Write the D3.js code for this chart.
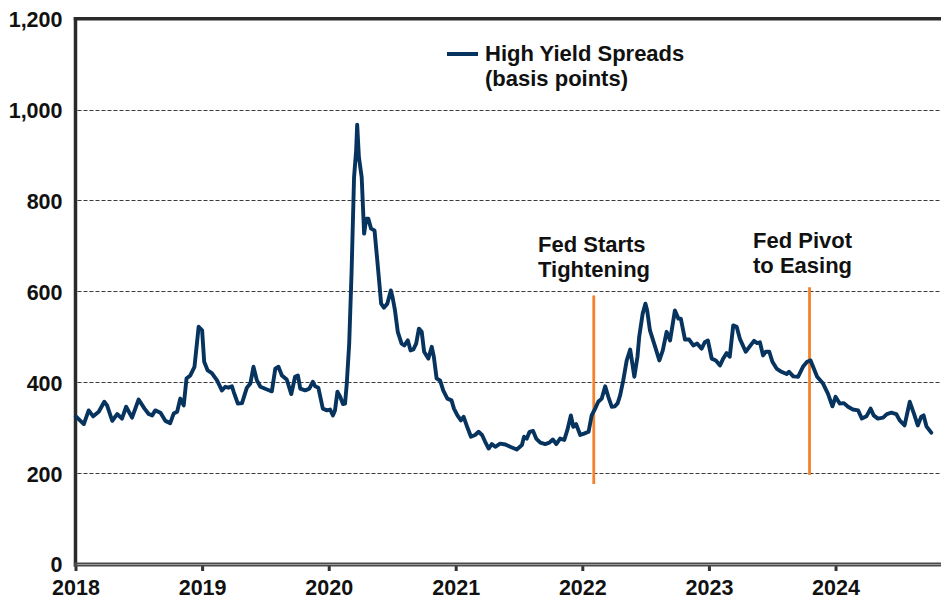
<!DOCTYPE html>
<html>
<head>
<meta charset="utf-8">
<script src="https://cdn.jsdelivr.net/npm/d3@7"></script>
<style>
  html, body { margin: 0; padding: 0; background: #fff; }
  svg { display: block; font-family: "Liberation Sans", Arial, Helvetica, sans-serif; font-weight: bold; }
</style>
</head>
<body>
<svg id="chart" width="941" height="599"></svg>
<script>
// High yield option-adjusted spread, basis points
const obsDates = [
  "2018-01-02","2018-01-25","2018-02-08","2018-02-21","2018-03-09","2018-03-25","2018-04-02","2018-04-17",
  "2018-05-01","2018-05-15","2018-05-27","2018-06-13","2018-07-02","2018-07-19","2018-07-31","2018-08-10",
  "2018-08-19","2018-09-03","2018-09-17","2018-10-01","2018-10-11","2018-10-21","2018-10-30","2018-11-09",
  "2018-11-17","2018-11-28","2018-12-10","2018-12-22",
  "2019-01-01","2019-01-07","2019-01-17","2019-01-29","2019-02-13","2019-02-27","2019-03-09","2019-03-18",
  "2019-03-28","2019-04-02","2019-04-14","2019-04-26","2019-05-10","2019-05-20","2019-05-29","2019-06-08",
  "2019-06-18","2019-07-07","2019-07-21","2019-07-31","2019-08-09","2019-08-19","2019-09-02","2019-09-15",
  "2019-09-26","2019-10-04","2019-10-11","2019-10-25","2019-11-06","2019-11-16","2019-11-23","2019-12-02",
  "2019-12-15","2019-12-27",
  "2020-01-05","2020-01-13","2020-01-19","2020-01-26","2020-02-03","2020-02-11","2020-02-17","2020-02-22",
  "2020-02-29","2020-03-07","2020-03-14","2020-03-20","2020-03-23","2020-03-28","2020-04-05","2020-04-12",
  "2020-04-18","2020-04-24","2020-05-02","2020-05-12","2020-05-20","2020-05-26","2020-05-31","2020-06-08",
  "2020-06-18","2020-06-28","2020-07-03","2020-07-10","2020-07-18","2020-07-29","2020-08-06","2020-08-16",
  "2020-08-24","2020-09-01","2020-09-09","2020-09-17","2020-09-25","2020-10-02","2020-10-14","2020-10-24",
  "2020-10-30","2020-11-07","2020-11-17","2020-11-26","2020-12-08","2020-12-20","2020-12-27",
  "2021-01-06","2021-01-16","2021-01-24","2021-02-03","2021-02-14","2021-02-26","2021-03-08","2021-03-18",
  "2021-03-27","2021-04-06","2021-04-15","2021-04-25","2021-05-09","2021-05-24","2021-06-07","2021-06-26",
  "2021-07-11","2021-07-17","2021-07-25","2021-08-02","2021-08-12","2021-08-21","2021-09-02","2021-09-16",
  "2021-09-28","2021-10-08","2021-10-18","2021-10-29","2021-11-10","2021-11-19","2021-11-29","2021-12-06",
  "2021-12-14","2021-12-26",
  "2022-01-06","2022-01-19","2022-01-28","2022-02-07","2022-02-16","2022-02-26","2022-03-08","2022-03-17",
  "2022-03-27","2022-04-05","2022-04-13","2022-04-20","2022-04-29","2022-05-09","2022-05-19","2022-05-31",
  "2022-06-09","2022-06-14","2022-06-24","2022-07-02","2022-07-07","2022-07-15","2022-07-30","2022-08-11",
  "2022-08-21","2022-09-01","2022-09-11","2022-09-25","2022-10-05","2022-10-12","2022-10-24","2022-11-05",
  "2022-11-17","2022-11-28","2022-12-11","2022-12-20","2022-12-29",
  "2023-01-09","2023-01-21","2023-02-02","2023-02-11","2023-02-21","2023-03-02","2023-03-12","2023-03-22",
  "2023-03-31","2023-04-17","2023-05-01","2023-05-11","2023-05-20","2023-05-28","2023-06-06","2023-06-14",
  "2023-06-24","2023-07-03","2023-07-15","2023-07-29","2023-08-13","2023-08-20","2023-09-01","2023-09-15",
  "2023-09-29","2023-10-11","2023-10-21","2023-11-09","2023-11-26","2023-12-10","2023-12-23",
  "2024-01-01","2024-01-13","2024-01-25","2024-02-06","2024-02-20","2024-03-06","2024-03-17","2024-03-30",
  "2024-04-11","2024-04-20","2024-05-02","2024-05-17","2024-05-28","2024-06-10","2024-06-24","2024-07-04",
  "2024-07-18","2024-08-02","2024-08-14","2024-08-25","2024-09-04","2024-09-11","2024-09-19","2024-10-03"
];
const hySpread = [
  325,308,338,325,335,357,349,315,
  330,320,346,322,362,342,330,327,
  338,333,315,310,331,335,364,349,
  408,415,434,522,
  514,445,426,420,404,382,390,388,
  391,379,353,354,388,397,434,404,
  390,384,380,430,434,415,406,374,
  412,415,386,382,386,401,391,388,
  342,338,
  340,327,338,379,368,352,353,397,
  485,646,851,910,967,895,851,727,
  760,760,738,734,668,617,573,564,
  573,602,587,558,511,485,481,492,
  470,472,485,518,511,467,452,478,
  456,408,404,382,364,360,342,
  327,316,324,302,280,284,291,284,
  269,254,264,258,265,263,258,252,
  262,280,276,291,293,276,267,264,
  267,274,264,276,273,295,327,302,
  308,284,
  287,291,327,342,357,364,391,368,
  346,347,354,371,404,448,472,412,
  456,500,551,573,558,514,478,448,
  470,511,492,558,540,540,494,494,
  481,485,474,488,492,
  452,448,437,452,464,456,525,522,
  496,467,481,491,486,488,459,467,
  467,445,430,423,418,423,413,412,
  434,445,448,412,397,375,347,
  368,353,354,346,340,338,320,325,
  342,327,320,322,330,333,330,316,
  305,357,331,305,324,327,303,289
];

const yTickValues = [0, 200, 400, 600, 800, 1000, 1200];
const gridValues = [200, 400, 600, 800, 1000];
const yearTicks = [2018, 2019, 2020, 2021, 2022, 2023, 2024];
const seriesLabel = ["High Yield Spreads", "(basis points)"];

// Policy turning points: date, label lines, and the spread range the marker spans
const eventDates = ["2022-02-03", "2023-10-18"];
const eventLabels = [["Fed Starts", "Tightening"], ["Fed Pivot", "to Easing"]];
const eventLow = [176, 196];
const eventHigh = [591, 609];

const parse = d3.timeParse("%Y-%m-%d");
const series = obsDates.map((d, i) => ({ date: parse(d), value: hySpread[i] }));

const svg = d3.select("#chart");
const plotLeft = 75.5, plotRight = 941, plotTop = 18.7, plotBottom = 564;
const navy = "#07335f";
const orange = "#f4812b";

const x = d3.scaleTime()
  .domain([new Date(2018, 0, 1), new Date(2024, 9, 31)])
  .range([plotLeft, plotRight]);
const y = d3.scaleLinear().domain([0, 1200]).range([plotBottom, plotTop]);

// dashed horizontal gridlines
svg.append("g").selectAll("line")
  .data(gridValues).join("line")
  .attr("x1", plotLeft + 2).attr("x2", plotRight)
  .attr("y1", d => Math.round(y(d)) + 0.5).attr("y2", d => Math.round(y(d)) + 0.5)
  .attr("stroke", "#3a3a3a").attr("stroke-width", 1)
  .attr("stroke-dasharray", "4,2");

// y axis labels
const yAxis = d3.axisLeft(y).tickValues(yTickValues).tickFormat(d3.format(","))
  .tickSize(0).tickPadding(13);
const gy = svg.append("g").attr("transform", `translate(${plotLeft},0)`).call(yAxis);
gy.select(".domain").remove();
gy.selectAll("text").attr("font-size", 21.5).attr("font-weight", "bold")
  .attr("fill", "#111").attr("dy", "0.37em")
  .attr("font-family", "'Liberation Sans', Arial, sans-serif");

// x axis ticks and year labels
const xAxis = d3.axisBottom(x)
  .tickValues(yearTicks.map(yr => new Date(yr, 0, 1)))
  .tickFormat(d3.timeFormat("%Y"))
  .tickSize(7).tickPadding(9);
const gx = svg.append("g").attr("transform", `translate(0,${plotBottom})`).call(xAxis);
gx.select(".domain").remove();
gx.selectAll(".tick line").attr("stroke", "#333").attr("stroke-width", 3);
gx.selectAll("text").attr("font-size", 21.5).attr("font-weight", "bold")
  .attr("fill", "#111")
  .attr("font-family", "'Liberation Sans', Arial, sans-serif");

// chart frame: left and top borders, double-ruled baseline
svg.append("line").attr("x1", plotLeft).attr("x2", plotLeft).attr("y1", plotTop - 1.7).attr("y2", plotBottom + 2.5)
  .attr("stroke", "#2a2a2a").attr("stroke-width", 3.5);
svg.append("line").attr("x1", plotLeft - 1.7).attr("x2", plotRight).attr("y1", plotTop).attr("y2", plotTop)
  .attr("stroke", "#2a2a2a").attr("stroke-width", 3.5);
svg.append("rect").attr("x", plotLeft - 1.7).attr("y", plotBottom - 1.5)
  .attr("width", plotRight - plotLeft + 1.7).attr("height", 4)
  .attr("fill", "#4a4a4a");
svg.append("line").attr("x1", plotLeft + 1.7).attr("x2", plotRight)
  .attr("y1", plotBottom + 0.5).attr("y2", plotBottom + 0.5)
  .attr("stroke", "#9a9a9a").attr("stroke-width", 1.2);

// event markers
const events = eventDates.map((d, i) => ({
  date: parse(d), lines: eventLabels[i], lo: eventLow[i], hi: eventHigh[i]
}));
svg.append("g").selectAll("line")
  .data(events).join("line")
  .attr("x1", d => x(d.date)).attr("x2", d => x(d.date))
  .attr("y1", d => y(d.hi)).attr("y2", d => y(d.lo))
  .attr("stroke", orange).attr("stroke-width", 2.8);

// spread line
const line = d3.line().x(d => x(d.date)).y(d => y(d.value)).curve(d3.curveLinear);
svg.append("path").datum(series)
  .attr("d", line).attr("fill", "none")
  .attr("stroke", navy).attr("stroke-width", 3.9)
  .attr("stroke-linejoin", "round").attr("stroke-linecap", "round");

// event captions
const captionPos = [[538, 252], [753, 248]];
events.forEach((ev, i) => {
  const t = svg.append("text")
    .attr("x", captionPos[i][0]).attr("y", captionPos[i][1])
    .attr("font-size", 22).attr("fill", "#111");
  ev.lines.forEach((s, j) => {
    t.append("tspan").attr("x", captionPos[i][0]).attr("dy", j === 0 ? 0 : 25).text(s);
  });
});

// legend
const lg = svg.append("g");
lg.append("line").attr("x1", 447).attr("x2", 478).attr("y1", 54).attr("y2", 54)
  .attr("stroke", navy).attr("stroke-width", 4);
const lt = lg.append("text").attr("x", 485).attr("y", 61).attr("font-size", 22).attr("fill", "#111");
seriesLabel.forEach((s, j) => {
  lt.append("tspan").attr("x", 485).attr("dy", j === 0 ? 0 : 25).text(s);
});
</script>
</body>
</html>
